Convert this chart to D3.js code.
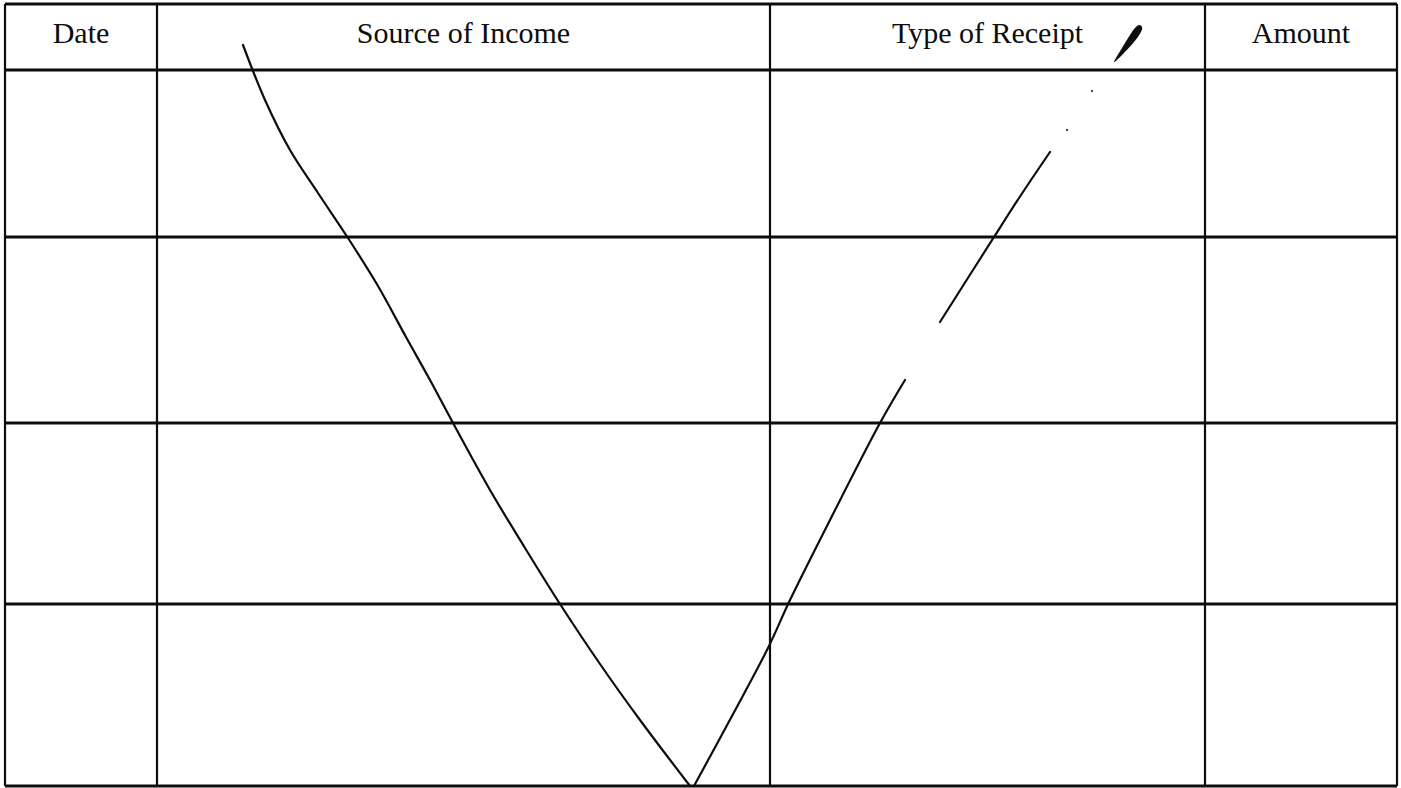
<!DOCTYPE html>
<html>
<head>
<meta charset="utf-8">
<script src="https://cdn.jsdelivr.net/npm/d3@7"></script>
<style>
  html, body { margin: 0; padding: 0; background: #fff; }
  svg { display: block; }
</style>
</head>
<body>
<svg id="chart" width="1401" height="788"></svg>
<script>
// ---- data (form units) ----
const headers = ["Date", "Source of Income", "Type of Receipt", "Amount"];
const colEdges = [5, 157, 770, 1205, 1397];
const rowEdges = [4, 70, 237, 423, 604, 786];

// handwritten "V" stroke
const strokeLeft = [[243,45],[265,100],[290,150],[318,193],[348,238],[378,286],[406,337],[430,380],[453,423],[490,490],[525,548],[560,604],[600,664],[640,720],[690,786]];
const strokeRightLow = [[694,786],[732,716],[768,648],[790,600],[830,520],[880,423],[905,380]];
const strokeRightHigh = [[940,322],[966,281],[994,237],[1021,195],[1050,152]];
// pen blot near header
const blot = [[1114,62],[1122,48],[1130,35],[1135,28],[1139,25],[1142,27],[1141,32],[1134,42],[1122,55]];
const specks = [[1067,130],[1092,91]];

// ---- scales ----
const W = 1401, H = 788;
const x = d3.scaleLinear().domain([0, 1401]).range([0, W]);
const y = d3.scaleLinear().domain([0, 788]).range([0, H]);

const svg = d3.select("#chart");
const ink = "#0d0d0d";

// grid: horizontal rules
svg.append("g").selectAll("line").data(rowEdges).join("line")
  .attr("x1", x(colEdges[0])).attr("x2", x(colEdges[colEdges.length-1]))
  .attr("y1", d => y(d)).attr("y2", d => y(d))
  .attr("stroke", ink).attr("stroke-width", 2.8);

// grid: vertical rules
svg.append("g").selectAll("line").data(colEdges).join("line")
  .attr("x1", d => x(d)).attr("x2", d => x(d))
  .attr("y1", y(rowEdges[0])).attr("y2", y(rowEdges[rowEdges.length-1]))
  .attr("stroke", ink).attr("stroke-width", 2.2);

// headers
svg.append("g").selectAll("text").data(headers).join("text")
  .attr("x", (d, i) => x((colEdges[i] + colEdges[i+1]) / 2))
  .attr("y", y(43))
  .attr("text-anchor", "middle")
  .attr("font-family", "'Liberation Serif', 'Times New Roman', serif")
  .attr("font-size", 30)
  .attr("fill", ink)
  .text(d => d);

// strokes
const line = d3.line().x(d => x(d[0])).y(d => y(d[1])).curve(d3.curveCatmullRom.alpha(0.5));
svg.append("g").selectAll("path").data([strokeLeft, strokeRightLow, strokeRightHigh]).join("path")
  .attr("d", line)
  .attr("fill", "none")
  .attr("stroke", ink)
  .attr("stroke-width", 2.2)
  .attr("stroke-linecap", "round");

// blot
svg.append("path")
  .attr("d", d3.line().x(d => x(d[0])).y(d => y(d[1])).curve(d3.curveCardinalClosed)(blot))
  .attr("fill", ink);

svg.append("g").selectAll("circle").data(specks).join("circle")
  .attr("cx", d => x(d[0])).attr("cy", d => y(d[1])).attr("r", 1).attr("fill", ink);
</script>
</body>
</html>
